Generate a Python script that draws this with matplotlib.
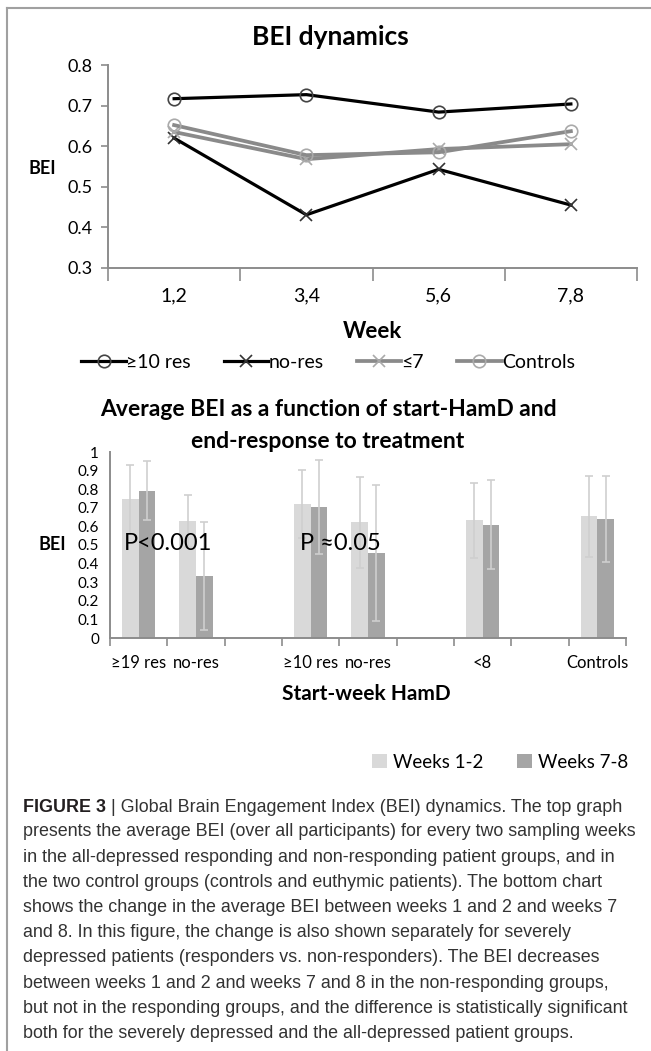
import matplotlib
matplotlib.use("Agg")
import matplotlib.pyplot as plt
from matplotlib.lines import Line2D

W, H = 651, 1051

# ---- data: top chart
weeks = ["1,2", "3,4", "5,6", "7,8"]
res10 = [0.717, 0.727, 0.684, 0.704]
nores = [0.620, 0.431, 0.543, 0.455]
le7 = [0.635, 0.568, 0.593, 0.605]
controls = [0.652, 0.578, 0.585, 0.637]

# ---- data: bottom chart
groups = ["\u226519 res", "no-res", "", "\u226510 res", "no-res", "", "<8", "", "Controls"]
bar_slots = [0, 1, 3, 4, 6, 8]
wk12 = [0.745, 0.629, 0.720, 0.621, 0.634, 0.654]
wk78 = [0.791, 0.334, 0.705, 0.457, 0.609, 0.641]
err12 = [0.184, 0.142, 0.182, 0.242, 0.202, 0.216]
err78 = [0.158, 0.292, 0.253, 0.363, 0.240, 0.230]

caption = [
    "presents the average BEI (over all participants) for every two sampling weeks",
    "in the all-depressed responding and non-responding patient groups, and in",
    "the two control groups (controls and euthymic patients). The bottom chart",
    "shows the change in the average BEI between weeks 1 and 2 and weeks 7",
    "and 8. In this figure, the change is also shown separately for severely",
    "depressed patients (responders vs. non-responders). The BEI decreases",
    "between weeks 1 and 2 and weeks 7 and 8 in the non-responding groups,",
    "but not in the responding groups, and the difference is statistically significant",
    "both for the severely depressed and the all-depressed patient groups.",
]

chart_font = ["Lato", "DejaVu Sans"]
cap_font = ["Liberation Sans Narrow", "Liberation Sans", "DejaVu Sans"]
plt.rcParams["font.family"] = chart_font

fig = plt.figure(figsize=(W / 100, H / 100), dpi=100)


def fx(x):
    return x / W


def fy(y):
    return 1 - y / H


def axes_px(left, top, right, bottom):
    return fig.add_axes([fx(left), fy(bottom), (right - left) / W, (bottom - top) / H])


axis_grey = "#8c8c8c"

# ---------------- top line chart
ax1 = axes_px(108, 65, 637, 268)
x = range(len(weeks))
ax1.plot(x, res10, color="black", lw=2.3, marker="o", ms=9, mfc="none", mec="#444444", mew=1.2, label="\u226510 res")
ax1.plot(x, nores, color="black", lw=2.3, marker="x", ms=9, mec="#333333", mew=1.2, label="no-res")
ax1.plot(x, le7, color="#8a8a8a", lw=2.7, marker="x", ms=9, mec="#aaaaaa", mew=1.2, label="\u22647")
ax1.plot(x, controls, color="#8a8a8a", lw=2.7, marker="o", ms=9, mfc="none", mec="#aaaaaa", mew=1.2, label="Controls")
ax1.set_xlim(-0.5, 3.5)
ax1.set_ylim(0.3, 0.8)
ax1.set_yticks([0.3, 0.4, 0.5, 0.6, 0.7, 0.8])
ax1.set_yticklabels(["0.3", "0.4", "0.5", "0.6", "0.7", "0.8"])
ax1.set_xticks(list(x))
ax1.set_xticklabels(weeks)
ax1.set_xticks([-0.5, 0.5, 1.5, 2.5, 3.5], minor=True)
ax1.tick_params(axis="x", which="major", length=0, pad=14, labelsize=14)
ax1.tick_params(axis="x", which="minor", length=9, color=axis_grey, width=1.2)
ax1.tick_params(axis="y", length=5, color=axis_grey, width=1.2, labelsize=13, pad=6)
for s in ["top", "right"]:
    ax1.spines[s].set_visible(False)
for s in ["left", "bottom"]:
    ax1.spines[s].set_color(axis_grey)
    ax1.spines[s].set_linewidth(1.4)
fig.text(fx(330), fy(37), "BEI dynamics", ha="center", va="center", fontsize=19, fontweight="bold")
fig.text(fx(42), fy(168), "BEI", ha="center", va="center", fontsize=13, fontweight="bold")
fig.text(fx(372), fy(332), "Week", ha="center", va="center", fontsize=16, fontweight="bold")
ax1.legend(loc="center", bbox_to_anchor=(fx(328), fy(362)), bbox_transform=fig.transFigure,
           ncol=4, frameon=False, fontsize=14, handlelength=2.3, handletextpad=0.0,
           columnspacing=1.7, borderaxespad=0)

# ---------------- bottom bar chart
ax2 = axes_px(110, 452, 626, 638)
bw = 0.29
pos12 = [s - bw / 2 for s in bar_slots]
pos78 = [s + bw / 2 for s in bar_slots]
ax2.bar(pos12, wk12, width=bw, color="#d9d9d9", label="Weeks 1-2", zorder=2)
ax2.bar(pos78, wk78, width=bw, color="#a5a5a5", label="Weeks 7-8", zorder=2)
ax2.errorbar(pos12, wk12, yerr=err12, fmt="none", ecolor="#cfcfcf", elinewidth=1.2, capsize=3, capthick=1.2, zorder=3)
ax2.errorbar(pos78, wk78, yerr=err78, fmt="none", ecolor="#cfcfcf", elinewidth=1.2, capsize=3, capthick=1.2, zorder=3)
ax2.set_xlim(-0.5, len(groups) - 0.5)
ax2.set_ylim(0, 1)
yt = [i / 10 for i in range(11)]
ax2.set_yticks(yt)
ax2.set_yticklabels(["0"] + ["0.%d" % i for i in range(1, 10)] + ["1"])
ax2.set_xticks(range(len(groups)))
ax2.set_xticklabels(groups)
ax2.set_xticks([i - 0.5 for i in range(len(groups) + 1)], minor=True)
ax2.tick_params(axis="x", which="major", length=0, pad=12, labelsize=12)
ax2.tick_params(axis="x", which="minor", length=6, color=axis_grey, width=1.2)
ax2.tick_params(axis="y", length=0, labelsize=11, pad=8)
for s in ["top", "right"]:
    ax2.spines[s].set_visible(False)
for s in ["left", "bottom"]:
    ax2.spines[s].set_color(axis_grey)
    ax2.spines[s].set_linewidth(1.4)
fig.text(fx(328), fy(410), "Average BEI as a function of start-HamD and", ha="center", va="center",
         fontsize=16.5, fontweight="bold")
fig.text(fx(328), fy(442), "end-response to treatment", ha="center", va="center",
         fontsize=16.5, fontweight="bold")
fig.text(fx(52), fy(545), "BEI", ha="center", va="center", fontsize=13, fontweight="bold")
fig.text(fx(168), fy(543), "P<0.001", ha="center", va="center", fontsize=17)
fig.text(fx(340), fy(543), "P \u22480.05", ha="center", va="center", fontsize=17)
fig.text(fx(366), fy(694), "Start-week HamD", ha="center", va="center", fontsize=15, fontweight="bold")
ax2.legend(loc="center", bbox_to_anchor=(fx(500), fy(762)), bbox_transform=fig.transFigure,
           ncol=2, frameon=False, fontsize=13.5, handlelength=0.8, handleheight=0.8,
           handletextpad=0.3, columnspacing=1.8, borderaxespad=0)

# ---------------- frame line round the charts
fig.add_artist(Line2D([fx(7), fx(7)], [fy(8), 0], color="#a0a0a0", lw=1.5))
fig.add_artist(Line2D([fx(7), fx(650)], [fy(8), fy(8)], color="#a0a0a0", lw=1.5))

# ---------------- caption
fig.canvas.draw()
r = fig.canvas.get_renderer()
t0 = fig.text(fx(23), fy(807), "FIGURE 3", ha="left", va="center", fontsize=12.9,
              fontweight="bold", family=cap_font, color="#231f20")
bb = t0.get_window_extent(renderer=r)
fig.text(bb.x1 / W, fy(807), " | Global Brain Engagement Index (BEI) dynamics. The top graph",
         ha="left", va="center", fontsize=12.9, family=cap_font, color="#333333")
for i, line in enumerate(caption):
    fig.text(fx(23), fy(832 + i * 25.2), line, ha="left", va="center", fontsize=12.9,
             family=cap_font, color="#333333")

fig.savefig("out.png", dpi=100)
